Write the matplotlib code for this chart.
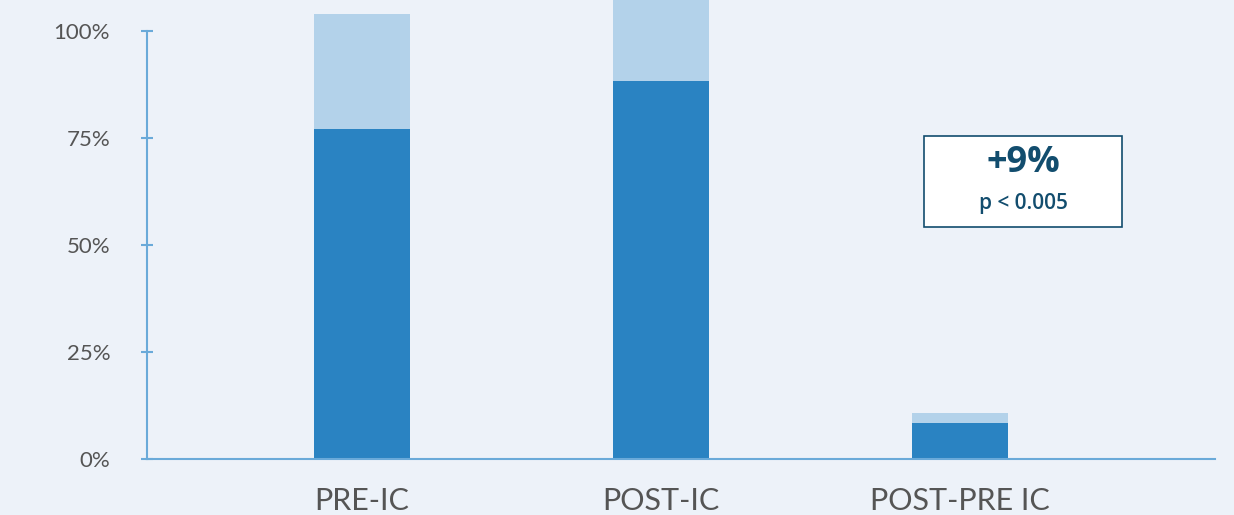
import matplotlib
matplotlib.use("Agg")
import matplotlib.pyplot as plt
from matplotlib.patches import Rectangle

# data (percent)
categories = ["PRE-IC", "POST-IC", "POST-PRE IC"]
base_values = [77.1, 88.3, 8.4]
extra_values = [26.9, 25.0, 2.3]
delta_label = "+9%"
p_label = "p < 0.005"

BG = "#edf2f9"
DARK = "#2a83c2"
LIGHT = "#b3d2ea"
AXIS = "#6aaad9"
TEXT = "#555555"
NAVY = "#124d6e"

fig = plt.figure(figsize=(12.34, 5.15), dpi=100, facecolor=BG)
ax = fig.add_axes([147 / 1234, 56 / 515, (1215 - 147) / 1234, 459 / 515])
ax.set_facecolor(BG)

x = list(range(len(categories)))
ax.bar(x, base_values, width=0.321, color=DARK, zorder=2)
ax.bar(x, extra_values, width=0.321, bottom=base_values, color=LIGHT, zorder=2)

ax.set_xlim(-0.719, 2.853)
ax.set_ylim(0, 107.2)

for s in ["top", "right"]:
    ax.spines[s].set_visible(False)
for s in ["left", "bottom"]:
    ax.spines[s].set_color(AXIS)
    ax.spines[s].set_linewidth(1.5)
ax.spines["left"].set_bounds(0, 100)

ax.set_yticks([0, 25, 50, 75, 100])
ax.set_yticklabels(["0%", "25%", "50%", "75%", "100%"])
ax.tick_params(axis="y", direction="inout", length=9, width=1.5, color=AXIS,
               pad=22, labelsize=16, labelcolor=TEXT)
ax.set_xticks(x)
ax.set_xticklabels(categories)
ax.tick_params(axis="x", length=0, pad=20, labelsize=22, labelcolor=TEXT)
for lab in ax.get_xticklabels() + ax.get_yticklabels():
    lab.set_family("Lato")

# annotation box
bx0, by0, bx1, by1 = 924, 136, 1122, 227
fig.patches.append(Rectangle((bx0 / 1234, 1 - by1 / 515), (bx1 - bx0) / 1234,
                             (by1 - by0) / 515, transform=fig.transFigure,
                             facecolor="white", edgecolor=NAVY, linewidth=1.2))
fig.text(1023 / 1234, 1 - 163 / 515, delta_label, ha="center", va="center",
         fontsize=26, fontweight="bold", color=NAVY, family="Open Sans")
fig.text(1023 / 1234, 1 - 204 / 515, p_label, ha="center", va="center",
         fontsize=15, fontweight="semibold", color=NAVY, family="Open Sans")

fig.savefig("out.png", dpi=100, facecolor=BG)
